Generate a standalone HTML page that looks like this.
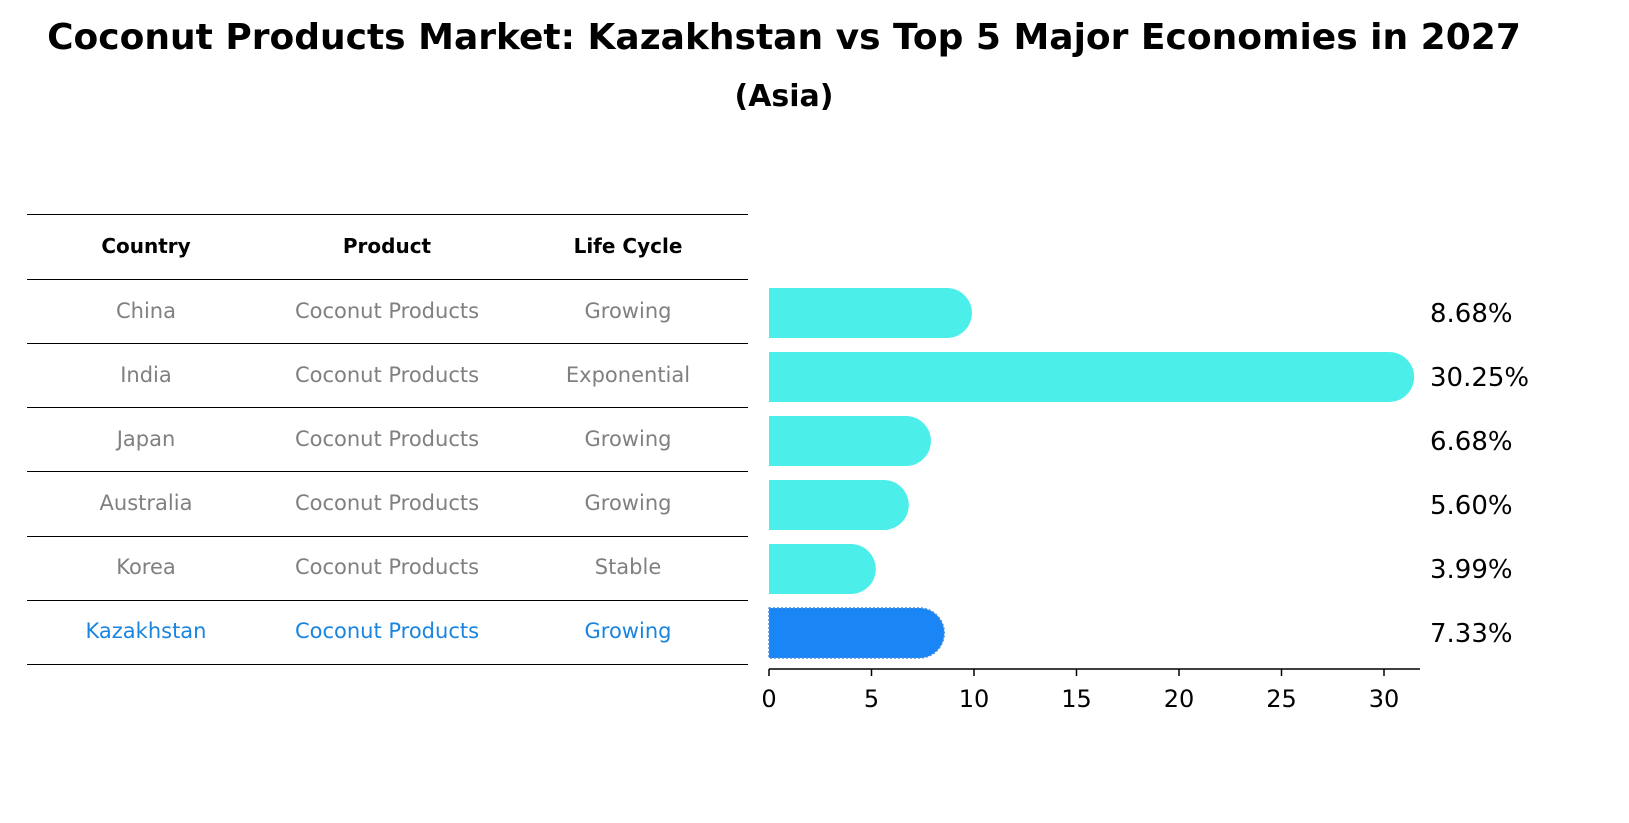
<!DOCTYPE html>
<html><head><meta charset="utf-8"><style>
body{margin:0;background:#fff;font-family:"DejaVu Sans","Liberation Sans",sans-serif;}
#wrap{position:relative;width:1629px;height:823px;overflow:hidden;}
</style></head><body>
<div id="wrap">
<svg id="svg" width="1629" height="823" style="position:absolute;left:0;top:0;font-family:'DejaVu Sans','Liberation Sans',sans-serif">
<text x="784" y="49" text-anchor="middle" font-size="36" font-weight="bold" fill="#000">Coconut Products Market: Kazakhstan vs Top 5 Major Economies in 2027</text>
<text x="784" y="106" text-anchor="middle" font-size="30" font-weight="bold" fill="#000">(Asia)</text>
</svg>
</div>
<script>
const countries=["China","India","Japan","Australia","Korea","Kazakhstan"];
const products=["Coconut Products","Coconut Products","Coconut Products","Coconut Products","Coconut Products","Coconut Products"];
const lifeCycles=["Growing","Exponential","Growing","Growing","Stable","Growing"];
const values=[8.68,30.25,6.68,5.60,3.99,7.33];
const ticks=[0,5,10,15,20,25,30];
const NS="http://www.w3.org/2000/svg";
const svg=document.getElementById('svg');
function mk(t,a,txt){const e=document.createElementNS(NS,t);for(const k in a)e.setAttribute(k,a[k]);if(txt!==undefined)e.textContent=txt;svg.appendChild(e);return e;}
const x0=769,ppu=20.5;const xs=v=>x0+v*ppu;
const rowY=i=>313+i*64;
const lineYs=[214,279,343,407,471,536,600,664];
lineYs.forEach((y)=>{const l=mk('line',{x1:27,x2:748,y1:y+0.5,y2:y+0.5,stroke:'#000','stroke-width':1});

});
const colX=[146,387,628];
["Country","Product","Life Cycle"].forEach((h,j)=>{const t=mk('text',{x:colX[j],y:253,'text-anchor':'middle','font-size':20,'font-weight':'bold',fill:'#000'},h);

});
countries.forEach((c,i)=>{const col=i===countries.length-1?'#1a85e0':'#808080';
[c,products[i],lifeCycles[i]].forEach((v,j)=>{const t=mk('text',{x:colX[j],y:rowY(i)+5,'text-anchor':'middle','font-size':21,fill:col},v);

});});
const h=50,r=25;
values.forEach((v,i)=>{const last=i===values.length-1;const fill=last?'#1a85f5':'#4beee9';
const y=rowY(i)-h/2;const xe=xs(v);
const p=mk('path',{d:`M${x0},${y} H${xe} A${r},${r} 0 0 1 ${xe},${y+h} H${x0} Z`,fill:fill});


if(last){p.setAttribute('stroke','#4a8fe0');p.setAttribute('stroke-dasharray','2,2');p.setAttribute('stroke-width','1.5');}
const t=mk('text',{x:1430,y:rowY(i)+9,'font-size':26,fill:'#000'},v.toFixed(2)+'%');

});
const ax=mk('line',{x1:x0,x2:1420,y1:669,y2:669,stroke:'#000','stroke-width':1.5});


ticks.forEach(t=>{const l=mk('line',{x1:xs(t),x2:xs(t),y1:669,y2:676,stroke:'#000','stroke-width':1.5});


const tx=mk('text',{x:xs(t),y:707,'text-anchor':'middle','font-size':24,fill:'#000'},String(t));

});
</script>
</body></html>
